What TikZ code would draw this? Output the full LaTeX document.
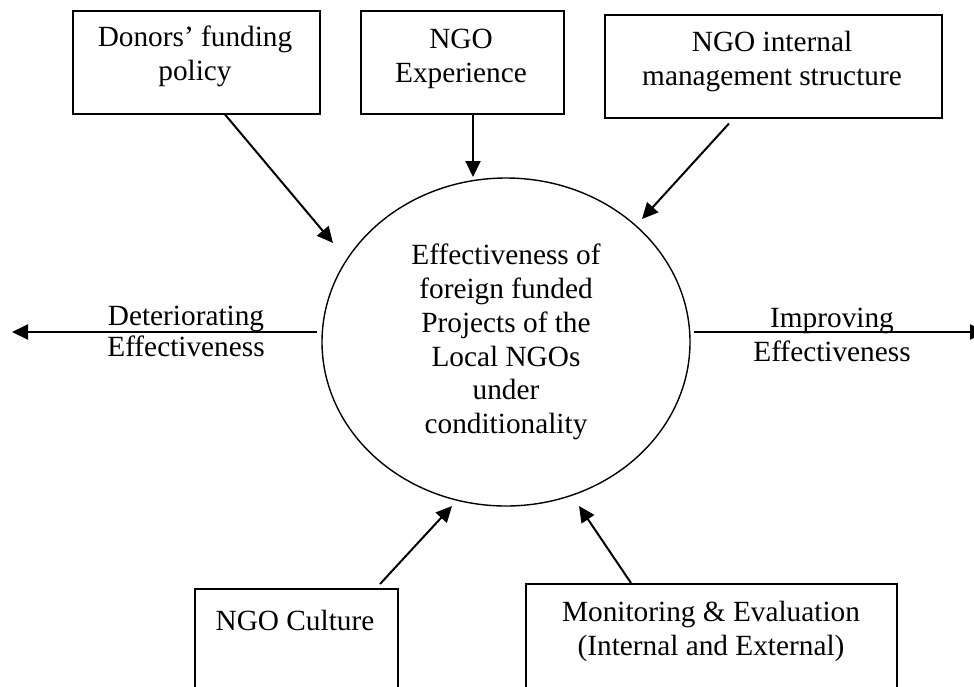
\documentclass[tikz,border=0pt]{standalone}
\usepackage{fontspec}
\setmainfont{Liberation Serif}
\usetikzlibrary{shapes.geometric,arrows.meta,calc}

\tikzset{
  txt/.style={font=\fontsize{29.3}{33.5}\selectfont, inner sep=0pt, align=center, anchor=base},
  factorbox/.style={draw, line width=1.5pt, inner sep=0pt, anchor=north west},
  link/.style={line width=2pt, -{Triangle[length=16pt,width=15pt]}},
}

\begin{document}
\begin{tikzpicture}[x=1pt, y=-1pt]
  \useasboundingbox (0,0) rectangle (974,686);
  \fill[white] (0,0) rectangle (974,686);

  % central ellipse with its text
  \node[ellipse, draw, line width=1.4pt, minimum width=368pt, minimum height=328pt,
        inner sep=0pt, align=center, font=\fontsize{29.3}{33.7}\selectfont]
    (core) at (506,342)
    {Effectiveness of\\foreign funded\\Projects of the\\Local NGOs\\under\\conditionality};

  % factor boxes
  \node[factorbox, minimum width=247pt, minimum height=103pt] (donors)   at (72,10)  {};
  \node[factorbox, minimum width=203pt, minimum height=103pt] (exper)    at (360,10) {};
  \node[factorbox, minimum width=337pt, minimum height=103pt] (internal) at (604,14) {};
  \node[factorbox, minimum width=203pt, minimum height=130pt] (culture)  at (194,588) {};
  \node[factorbox, minimum width=371pt, minimum height=130pt] (monit)    at (525,583) {};

  % box texts (placed by the baseline of their last line)
  \node[txt] (donorsTxt)   at (195,80)  {Donors’ funding\\policy};
  \node[txt] (experTxt)    at (461,82)  {NGO\\Experience};
  \node[txt] (internalTxt) at (772,85)  {NGO internal\\management structure};
  \node[txt] (cultureTxt)  at (295,630) {NGO Culture};
  \node[txt] (monitTxt)    at (711,655) {Monitoring \& Evaluation\\(Internal and External)};

  % outcome labels
  \node[txt, font=\fontsize{29.3}{31}\selectfont] (leftTxt) at (186,356) {Deteriorating\\Effectiveness};
  \node[txt] (rightTxt) at (832,361) {Improving\\Effectiveness};

  % ends of the outcome arrows
  \coordinate (farleft)  at (12,332);
  \coordinate (farright) at (986,332);

  % influences on the centre
  \draw[link] ($(donors.south west)+(153,0)$)   -- ($(core.center)+(-173,-99)$);
  \draw[link] ($(exper.south west)+(113,0)$)    -- ($(core.center)+(-33,-165)$);
  \draw[link] ($(internal.south west)+(125,5)$) -- ($(core.center)+(136,-123)$);
  \draw[link] ($(culture.north west)+(186,-4)$) -- ($(core.center)+(-54,164)$);
  \draw[link] ($(monit.north west)+(106,0)$)    -- ($(core.center)+(73,164)$);

  % outcome directions
  \draw[link] ($(core.center)+(-189,-10)$) -- (farleft);
  \draw[link] ($(core.center)+(188,-10)$)  -- (farright);
\end{tikzpicture}
\end{document}
